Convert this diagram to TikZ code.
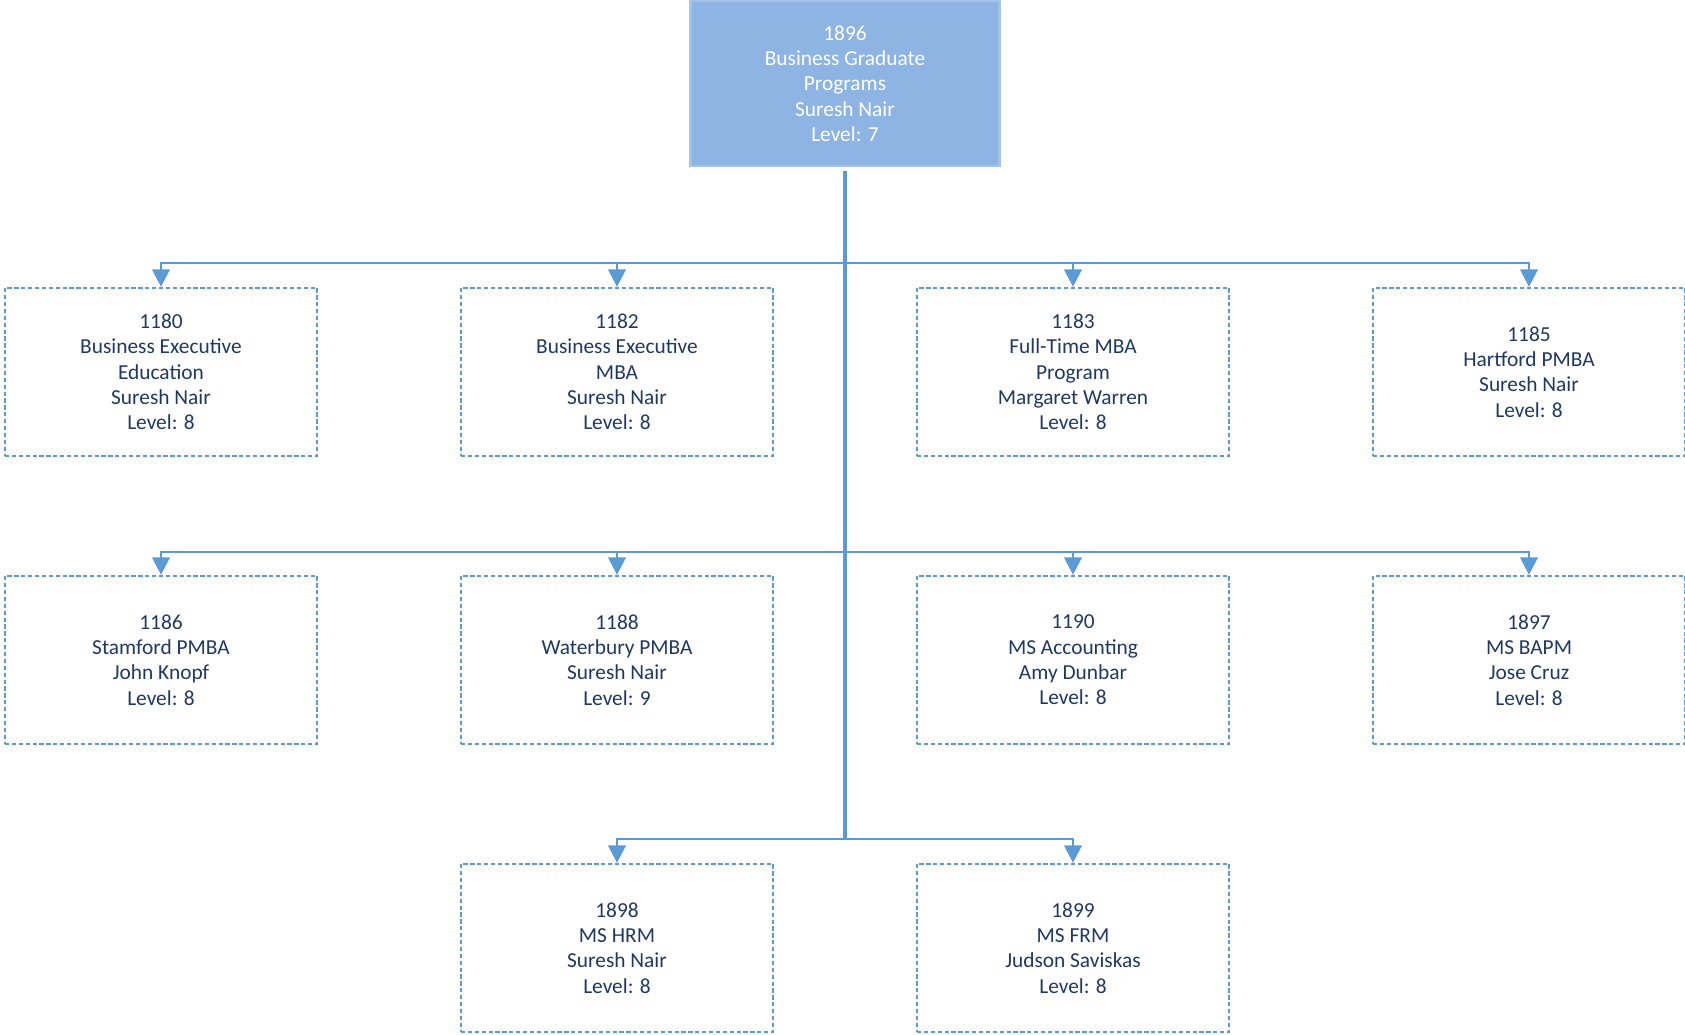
\documentclass[tikz,border=0pt]{standalone}
\usepackage{fontspec}
\setmainfont{Carlito}
\usepackage{tikz}
\definecolor{orgblue}{RGB}{91,155,213}
\definecolor{headfill}{RGB}{142,180,227}
\definecolor{navy}{RGB}{31,56,100}
\usetikzlibrary{positioning,arrows.meta}
\tikzset{%
  unit/.style={draw=orgblue, line width=1.6pt, dash pattern=on 3pt off 1.9pt,
    minimum width=7.8cm, minimum height=4.2cm, align=center, text=navy,
    font=\fontsize{15.2}{18}\selectfont},% program box
  head/.style={unit, solid, fill=headfill, draw=headfill!80!white, text=white,
    minimum width=7.725cm, minimum height=4.125cm},% top box
  trunk/.style={draw=orgblue, line width=2.8pt},% main vertical line
  branch/.style={draw=orgblue, line width=1.7pt,
    -{Triangle[width=0.44cm,length=0.44cm]}}% line down to a box
}

\begin{document}
\begin{tikzpicture}
\useasboundingbox (0,0) rectangle (42.125,-25.875);

\node[head] (u1896) at (21.125, -2.09) {1896\\Business Graduate\\Programs\\Suresh Nair\\Level: 7};

\node[unit] (u1180) at (4.025, -9.3) {1180\\Business Executive\\Education\\Suresh Nair\\Level: 8};
\node[unit] (u1182) at (15.425, -9.3) {1182\\Business Executive\\MBA\\Suresh Nair\\Level: 8};
\node[unit] (u1183) at (26.825, -9.3) {1183\\Full-Time MBA\\Program\\Margaret Warren\\Level: 8};
\node[unit] (u1185) at (38.225, -9.3) {1185\\Hartford PMBA\\Suresh Nair\\Level: 8};

\node[unit] (u1186) at (4.025, -16.5) {1186\\Stamford PMBA\\John Knopf\\Level: 8};
\node[unit] (u1188) at (15.425, -16.5) {1188\\Waterbury PMBA\\Suresh Nair\\Level: 9};
\node[unit] (u1190) at (26.825, -16.5) {1190\\MS Accounting\\Amy Dunbar\\Level: 8};
\node[unit] (u1897) at (38.225, -16.5) {1897\\MS BAPM\\Jose Cruz\\Level: 8};

\node[unit] (u1898) at (15.425, -23.7) {1898\\MS HRM\\Suresh Nair\\Level: 8};
\node[unit] (u1899) at (26.825, -23.7) {1899\\MS FRM\\Judson Saviskas\\Level: 8};

\coordinate (bus1) at (21.125, -6.575);
\coordinate (bus2) at (21.125, -13.8);
\coordinate (bus3) at (21.125, -20.975);

\draw[trunk, shorten <=0.1cm] (u1896) -- (bus3);

\draw[branch] (bus1) -| (u1180);
\draw[branch] (bus1) -| (u1182);
\draw[branch] (bus1) -| (u1183);
\draw[branch] (bus1) -| (u1185);

\draw[branch] (bus2) -| (u1186);
\draw[branch] (bus2) -| (u1188);
\draw[branch] (bus2) -| (u1190);
\draw[branch] (bus2) -| (u1897);

\draw[branch] (bus3) -| (u1898);
\draw[branch] (bus3) -| (u1899);

\end{tikzpicture}
\end{document}
